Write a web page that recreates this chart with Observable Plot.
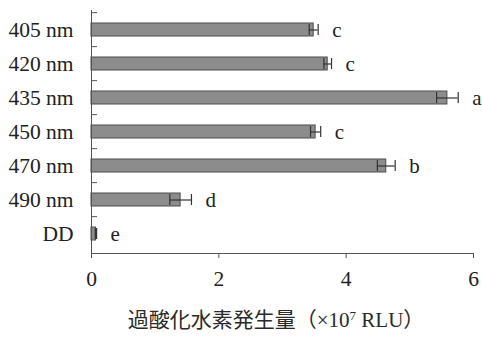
<!DOCTYPE html>
<html>
<head>
<meta charset="utf-8">
<script src="https://cdn.jsdelivr.net/npm/d3@7"></script>
<script src="https://cdn.jsdelivr.net/npm/@observablehq/plot@0.6"></script>
<style>
  body { margin: 0; background: #fff; }
  #chart { width: 482px; }
  #chart svg text { font-family: "Liberation Serif", "Times New Roman", serif; }
  .xlabel {
    margin: 18px 0 0 70px;
    width: 412px;
    text-align: center;
    font-family: "Liberation Serif", "Noto Sans CJK JP", serif;
    font-size: 21px;
    line-height: 25px;
    color: #2a2a2a;
    white-space: nowrap;
  }
  .xlabel sup { font-size: 0.62em; line-height: 0; vertical-align: 0.55em; }
</style>
</head>
<body>
<div id="chart"></div>
<script>
// Light treatments (peak wavelength) and dark control
const wavelengths = ["405 nm", "420 nm", "435 nm", "450 nm", "470 nm", "490 nm", "DD"];
// Hydrogen peroxide production, ×10^7 RLU
const means = [3.49, 3.71, 5.59, 3.52, 4.63, 1.40, 0.07];
// Error bar half-widths
const errors = [0.07, 0.06, 0.17, 0.08, 0.14, 0.17, 0.01];
// Significance groups
const groups = ["c", "c", "a", "c", "b", "d", "e"];
// X axis ticks
const xTicks = [0, 2, 4, 6];

const rows = wavelengths.map((w, i) => ({w, mean: means[i], err: errors[i], group: groups[i]}));

const W = 482, H = 290;
const mt = 10, mb = 37, ml = 91, mr = 9;
const step = (H - mt - mb) / wavelengths.length;
const ink = "#222";
const axisInk = "#555";
const serif = "Liberation Serif";

const chart = Plot.plot({
  width: W,
  height: H,
  marginTop: mt,
  marginBottom: mb,
  marginLeft: ml,
  marginRight: mr,
  style: {fontFamily: serif, color: ink, background: "#fff", overflow: "visible"},
  x: {domain: [0, 6]},
  y: {domain: wavelengths, paddingInner: 0.62, paddingOuter: 0.31},
  marks: [
    Plot.barX(rows, {x: "mean", y: "w", fill: "#8c8c8c", stroke: "#4d4d4d", strokeWidth: 1}),
    Plot.ruleY(rows, {y: "w", x1: d => d.mean - d.err, x2: d => d.mean + d.err, stroke: "#333", strokeWidth: 1.2}),
    Plot.tickX(rows, {x: d => d.mean - d.err, y: "w", insetTop: 1, insetBottom: 1, stroke: "#333", strokeWidth: 1.2}),
    Plot.tickX(rows, {x: d => d.mean + d.err, y: "w", insetTop: 1, insetBottom: 1, stroke: "#333", strokeWidth: 1.2}),
    Plot.text(rows, {x: d => d.mean + d.err, y: "w", text: "group", textAnchor: "start", dx: 14, fontSize: 21, fontFamily: serif, fill: ink}),
    // axis lines
    Plot.ruleX([0], {stroke: axisInk, strokeWidth: 1}),
    Plot.frame({anchor: "bottom", stroke: axisInk, strokeWidth: 1}),
    // category labels
    Plot.axisY({tickSize: 0, tickPadding: 18, fontSize: 21.5, fontFamily: serif, label: null, fill: ink}),
    // inward ticks between categories
    Plot.axisY({tickSize: 6, dx: 6, dy: -step / 2, tickFormat: () => "", label: null, stroke: axisInk}),
    // value axis
    Plot.axisX({ticks: xTicks, tickFormat: d3.format("d"), tickSize: 5, tickPadding: 12, fontSize: 21.5, fontFamily: serif, label: null, stroke: axisInk, fill: ink})
  ]
});

document.getElementById("chart").appendChild(chart);
const label = document.createElement("div");
label.className = "xlabel";
label.innerHTML = "過酸化水素発生量（×10<sup>7</sup> RLU）";
document.getElementById("chart").appendChild(label);
</script>
</body>
</html>
